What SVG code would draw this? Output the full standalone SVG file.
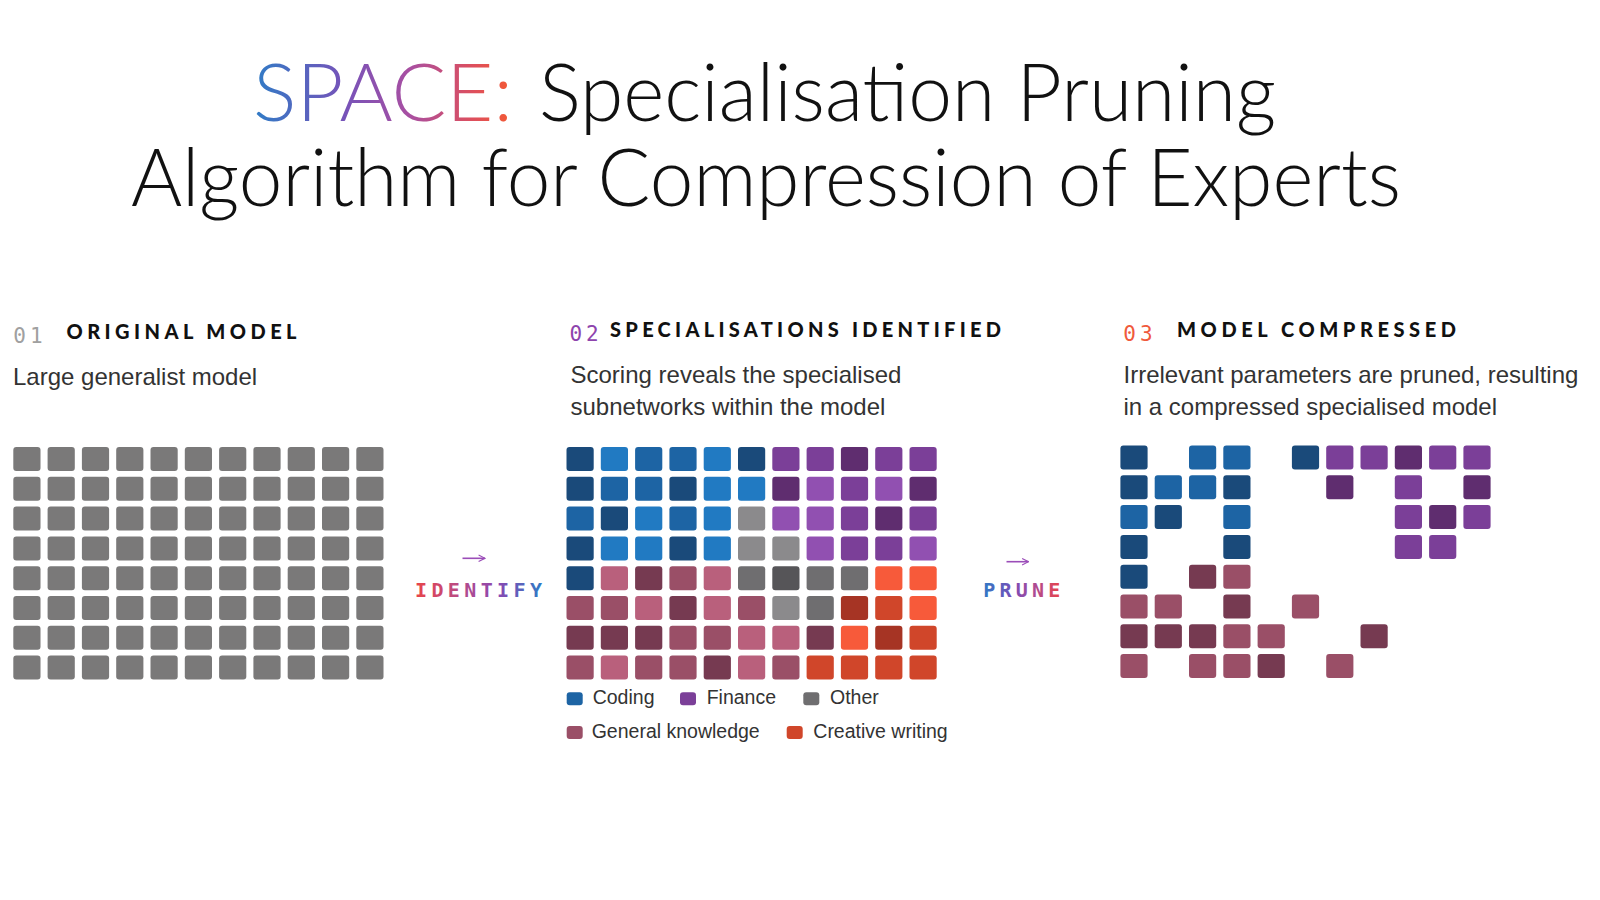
<svg xmlns="http://www.w3.org/2000/svg" width="1600" height="900" viewBox="0 0 1600 900">
<defs>
<linearGradient id="gSpace" gradientUnits="userSpaceOnUse" x1="253" y1="0" x2="513" y2="0">
<stop offset="0" stop-color="#2f7cc6"/><stop offset="0.35" stop-color="#7653b9"/><stop offset="0.6" stop-color="#a84fa2"/><stop offset="0.85" stop-color="#de4f5c"/><stop offset="1" stop-color="#f45a32"/>
</linearGradient>
<linearGradient id="gIdent" gradientUnits="userSpaceOnUse" x1="415" y1="0" x2="542" y2="0">
<stop offset="0" stop-color="#e8444a"/><stop offset="0.35" stop-color="#b94b87"/><stop offset="0.65" stop-color="#8a48b2"/><stop offset="1" stop-color="#2f7ac5"/>
</linearGradient>
<linearGradient id="gPrune" gradientUnits="userSpaceOnUse" x1="983" y1="0" x2="1060" y2="0">
<stop offset="0" stop-color="#2f7ac5"/><stop offset="0.4" stop-color="#7a4cb6"/><stop offset="0.65" stop-color="#a84c98"/><stop offset="1" stop-color="#e8444a"/>
</linearGradient>
<marker id="ah" viewBox="0 0 10 10" refX="9" refY="5" markerWidth="8" markerHeight="8" markerUnits="userSpaceOnUse" orient="auto">
<path d="M1 1 L9 5 L1 9" fill="none" stroke="#9b4db8" stroke-width="1.4"/>
</marker>
</defs>
<style>
.title{font-family:Lato,"Liberation Sans",sans-serif;font-weight:300;font-size:81px;fill:#111}
.num{font-family:"DejaVu Sans Mono","Liberation Mono",monospace;font-size:21px;letter-spacing:4px}
.head{font-family:Lato,"Liberation Sans",sans-serif;font-weight:900;font-size:20px;fill:#111}
.desc{font-family:"Liberation Sans",Arial,sans-serif;font-size:24px;fill:#333}
.leg{font-family:"Liberation Sans",Arial,sans-serif;font-size:19.5px;fill:#333}
.lbl{font-family:"DejaVu Sans Mono","Liberation Mono",monospace;font-weight:bold;font-size:20px}
.arr{fill:none;stroke:#9b4db8;stroke-width:1.6}
rect{rx:3px;ry:3px}
.cell rect{width:27.2px;height:24px}
.gy{fill:#7a7979}
.db{fill:#1a4a7a}.mb{fill:#1d64a4}.lb{fill:#217ac2}
.p{fill:#7b3f98}.dp{fill:#5f2d6f}.lp{fill:#9150b1}
.lg{fill:#8b8a8c}.g{fill:#6f6e70}.dg{fill:#565558}
.o{fill:#f75a3a}.r{fill:#d0462a}.dr{fill:#a63424}
.pk{fill:#b9607c}.m{fill:#9a4f67}.dm{fill:#763a51}
</style>
<rect x="0" y="0" width="1600" height="900" fill="#ffffff" rx="0" ry="0"/>

<g id="title">
<text class="title" x="253" y="121" fill="url(#gSpace)" style="fill:url(#gSpace)" textLength="260" lengthAdjust="spacingAndGlyphs">SPACE:</text>
<text class="title" x="539" y="121" textLength="737" lengthAdjust="spacingAndGlyphs">Specialisation Pruning</text>
<text class="title" x="131" y="206" textLength="1270" lengthAdjust="spacingAndGlyphs">Algorithm for Compression of Experts</text>
</g>

<g id="panel-original">
<text class="num" x="13.3" y="343" fill="#a0a0a0">01</text>
<text class="head" x="66.5" y="339" textLength="230" lengthAdjust="spacing">ORIGINAL MODEL</text>
<text class="desc" x="13" y="385">Large generalist model</text>
<g class="cell" transform="translate(13.3,447)">
<rect class="gy" x="0" y="0"/><rect class="gy" x="34.3" y="0"/><rect class="gy" x="68.6" y="0"/><rect class="gy" x="102.9" y="0"/><rect class="gy" x="137.2" y="0"/><rect class="gy" x="171.5" y="0"/><rect class="gy" x="205.8" y="0"/><rect class="gy" x="240.1" y="0"/><rect class="gy" x="274.4" y="0"/><rect class="gy" x="308.7" y="0"/><rect class="gy" x="343" y="0"/>
<rect class="gy" x="0" y="29.8"/><rect class="gy" x="34.3" y="29.8"/><rect class="gy" x="68.6" y="29.8"/><rect class="gy" x="102.9" y="29.8"/><rect class="gy" x="137.2" y="29.8"/><rect class="gy" x="171.5" y="29.8"/><rect class="gy" x="205.8" y="29.8"/><rect class="gy" x="240.1" y="29.8"/><rect class="gy" x="274.4" y="29.8"/><rect class="gy" x="308.7" y="29.8"/><rect class="gy" x="343" y="29.8"/>
<rect class="gy" x="0" y="59.6"/><rect class="gy" x="34.3" y="59.6"/><rect class="gy" x="68.6" y="59.6"/><rect class="gy" x="102.9" y="59.6"/><rect class="gy" x="137.2" y="59.6"/><rect class="gy" x="171.5" y="59.6"/><rect class="gy" x="205.8" y="59.6"/><rect class="gy" x="240.1" y="59.6"/><rect class="gy" x="274.4" y="59.6"/><rect class="gy" x="308.7" y="59.6"/><rect class="gy" x="343" y="59.6"/>
<rect class="gy" x="0" y="89.4"/><rect class="gy" x="34.3" y="89.4"/><rect class="gy" x="68.6" y="89.4"/><rect class="gy" x="102.9" y="89.4"/><rect class="gy" x="137.2" y="89.4"/><rect class="gy" x="171.5" y="89.4"/><rect class="gy" x="205.8" y="89.4"/><rect class="gy" x="240.1" y="89.4"/><rect class="gy" x="274.4" y="89.4"/><rect class="gy" x="308.7" y="89.4"/><rect class="gy" x="343" y="89.4"/>
<rect class="gy" x="0" y="119.2"/><rect class="gy" x="34.3" y="119.2"/><rect class="gy" x="68.6" y="119.2"/><rect class="gy" x="102.9" y="119.2"/><rect class="gy" x="137.2" y="119.2"/><rect class="gy" x="171.5" y="119.2"/><rect class="gy" x="205.8" y="119.2"/><rect class="gy" x="240.1" y="119.2"/><rect class="gy" x="274.4" y="119.2"/><rect class="gy" x="308.7" y="119.2"/><rect class="gy" x="343" y="119.2"/>
<rect class="gy" x="0" y="149"/><rect class="gy" x="34.3" y="149"/><rect class="gy" x="68.6" y="149"/><rect class="gy" x="102.9" y="149"/><rect class="gy" x="137.2" y="149"/><rect class="gy" x="171.5" y="149"/><rect class="gy" x="205.8" y="149"/><rect class="gy" x="240.1" y="149"/><rect class="gy" x="274.4" y="149"/><rect class="gy" x="308.7" y="149"/><rect class="gy" x="343" y="149"/>
<rect class="gy" x="0" y="178.8"/><rect class="gy" x="34.3" y="178.8"/><rect class="gy" x="68.6" y="178.8"/><rect class="gy" x="102.9" y="178.8"/><rect class="gy" x="137.2" y="178.8"/><rect class="gy" x="171.5" y="178.8"/><rect class="gy" x="205.8" y="178.8"/><rect class="gy" x="240.1" y="178.8"/><rect class="gy" x="274.4" y="178.8"/><rect class="gy" x="308.7" y="178.8"/><rect class="gy" x="343" y="178.8"/>
<rect class="gy" x="0" y="208.6"/><rect class="gy" x="34.3" y="208.6"/><rect class="gy" x="68.6" y="208.6"/><rect class="gy" x="102.9" y="208.6"/><rect class="gy" x="137.2" y="208.6"/><rect class="gy" x="171.5" y="208.6"/><rect class="gy" x="205.8" y="208.6"/><rect class="gy" x="240.1" y="208.6"/><rect class="gy" x="274.4" y="208.6"/><rect class="gy" x="308.7" y="208.6"/><rect class="gy" x="343" y="208.6"/>
</g>
</g>

<g id="panel-identified">
<text class="num" x="569.4" y="341" fill="#8e44ad">02</text>
<text class="head" x="610" y="337" textLength="391" lengthAdjust="spacing">SPECIALISATIONS IDENTIFIED</text>
<text class="desc" x="570.5" y="383">Scoring reveals the specialised</text>
<text class="desc" x="570.5" y="415">subnetworks within the model</text>
<g class="cell" transform="translate(566.5,447)">
<rect class="db" x="0" y="0"/><rect class="lb" x="34.3" y="0"/><rect class="mb" x="68.6" y="0"/><rect class="mb" x="102.9" y="0"/><rect class="lb" x="137.2" y="0"/><rect class="db" x="171.5" y="0"/><rect class="p" x="205.8" y="0"/><rect class="p" x="240.1" y="0"/><rect class="dp" x="274.4" y="0"/><rect class="p" x="308.7" y="0"/><rect class="p" x="343" y="0"/>
<rect class="db" x="0" y="29.8"/><rect class="mb" x="34.3" y="29.8"/><rect class="mb" x="68.6" y="29.8"/><rect class="db" x="102.9" y="29.8"/><rect class="lb" x="137.2" y="29.8"/><rect class="lb" x="171.5" y="29.8"/><rect class="dp" x="205.8" y="29.8"/><rect class="lp" x="240.1" y="29.8"/><rect class="p" x="274.4" y="29.8"/><rect class="lp" x="308.7" y="29.8"/><rect class="dp" x="343" y="29.8"/>
<rect class="mb" x="0" y="59.6"/><rect class="db" x="34.3" y="59.6"/><rect class="lb" x="68.6" y="59.6"/><rect class="mb" x="102.9" y="59.6"/><rect class="lb" x="137.2" y="59.6"/><rect class="lg" x="171.5" y="59.6"/><rect class="lp" x="205.8" y="59.6"/><rect class="lp" x="240.1" y="59.6"/><rect class="p" x="274.4" y="59.6"/><rect class="dp" x="308.7" y="59.6"/><rect class="p" x="343" y="59.6"/>
<rect class="db" x="0" y="89.4"/><rect class="lb" x="34.3" y="89.4"/><rect class="lb" x="68.6" y="89.4"/><rect class="db" x="102.9" y="89.4"/><rect class="lb" x="137.2" y="89.4"/><rect class="lg" x="171.5" y="89.4"/><rect class="lg" x="205.8" y="89.4"/><rect class="lp" x="240.1" y="89.4"/><rect class="p" x="274.4" y="89.4"/><rect class="p" x="308.7" y="89.4"/><rect class="lp" x="343" y="89.4"/>
<rect class="db" x="0" y="119.2"/><rect class="pk" x="34.3" y="119.2"/><rect class="dm" x="68.6" y="119.2"/><rect class="m" x="102.9" y="119.2"/><rect class="pk" x="137.2" y="119.2"/><rect class="g" x="171.5" y="119.2"/><rect class="dg" x="205.8" y="119.2"/><rect class="g" x="240.1" y="119.2"/><rect class="g" x="274.4" y="119.2"/><rect class="o" x="308.7" y="119.2"/><rect class="o" x="343" y="119.2"/>
<rect class="m" x="0" y="149"/><rect class="m" x="34.3" y="149"/><rect class="pk" x="68.6" y="149"/><rect class="dm" x="102.9" y="149"/><rect class="pk" x="137.2" y="149"/><rect class="m" x="171.5" y="149"/><rect class="lg" x="205.8" y="149"/><rect class="g" x="240.1" y="149"/><rect class="dr" x="274.4" y="149"/><rect class="r" x="308.7" y="149"/><rect class="o" x="343" y="149"/>
<rect class="dm" x="0" y="178.8"/><rect class="dm" x="34.3" y="178.8"/><rect class="dm" x="68.6" y="178.8"/><rect class="m" x="102.9" y="178.8"/><rect class="m" x="137.2" y="178.8"/><rect class="pk" x="171.5" y="178.8"/><rect class="pk" x="205.8" y="178.8"/><rect class="dm" x="240.1" y="178.8"/><rect class="o" x="274.4" y="178.8"/><rect class="dr" x="308.7" y="178.8"/><rect class="r" x="343" y="178.8"/>
<rect class="m" x="0" y="208.6"/><rect class="pk" x="34.3" y="208.6"/><rect class="m" x="68.6" y="208.6"/><rect class="m" x="102.9" y="208.6"/><rect class="dm" x="137.2" y="208.6"/><rect class="pk" x="171.5" y="208.6"/><rect class="m" x="205.8" y="208.6"/><rect class="r" x="240.1" y="208.6"/><rect class="r" x="274.4" y="208.6"/><rect class="r" x="308.7" y="208.6"/><rect class="r" x="343" y="208.6"/>
</g>
<g id="legend">
<rect class="mb" x="566.7" y="692.3" width="16" height="13" rx="1" ry="1"/><text class="leg" x="592.7" y="704.3">Coding</text>
<rect class="p" x="680" y="692.3" width="16" height="13" rx="1" ry="1"/><text class="leg" x="706.7" y="704.3">Finance</text>
<rect class="g" x="803.3" y="692.3" width="16" height="13" rx="1" ry="1"/><text class="leg" x="830" y="704.3">Other</text>
<rect class="m" x="566.7" y="726" width="16" height="13" rx="1" ry="1"/><text class="leg" x="591.7" y="737.7">General knowledge</text>
<rect class="r" x="786.7" y="726" width="16" height="13" rx="1" ry="1"/><text class="leg" x="813.3" y="737.7">Creative writing</text>
</g>
</g>

<g id="panel-compressed">
<text class="num" x="1123.3" y="341" fill="#f05a3c">03</text>
<text class="head" x="1177" y="337" textLength="279" lengthAdjust="spacing">MODEL COMPRESSED</text>
<text class="desc" x="1123.5" y="383">Irrelevant parameters are pruned, resulting</text>
<text class="desc" x="1123.5" y="415">in a compressed specialised model</text>
<g class="cell" transform="translate(1120.4,445.5)">
<rect class="db" x="0" y="0"/><rect class="mb" x="68.6" y="0"/><rect class="mb" x="102.9" y="0"/><rect class="db" x="171.5" y="0"/><rect class="p" x="205.8" y="0"/><rect class="p" x="240.1" y="0"/><rect class="dp" x="274.4" y="0"/><rect class="p" x="308.7" y="0"/><rect class="p" x="343" y="0"/>
<rect class="db" x="0" y="29.8"/><rect class="mb" x="34.3" y="29.8"/><rect class="mb" x="68.6" y="29.8"/><rect class="db" x="102.9" y="29.8"/><rect class="dp" x="205.8" y="29.8"/><rect class="p" x="274.4" y="29.8"/><rect class="dp" x="343" y="29.8"/>
<rect class="mb" x="0" y="59.6"/><rect class="db" x="34.3" y="59.6"/><rect class="mb" x="102.9" y="59.6"/><rect class="p" x="274.4" y="59.6"/><rect class="dp" x="308.7" y="59.6"/><rect class="p" x="343" y="59.6"/>
<rect class="db" x="0" y="89.4"/><rect class="db" x="102.9" y="89.4"/><rect class="p" x="274.4" y="89.4"/><rect class="p" x="308.7" y="89.4"/>
<rect class="db" x="0" y="119.2"/><rect class="dm" x="68.6" y="119.2"/><rect class="m" x="102.9" y="119.2"/>
<rect class="m" x="0" y="149"/><rect class="m" x="34.3" y="149"/><rect class="dm" x="102.9" y="149"/><rect class="m" x="171.5" y="149"/>
<rect class="dm" x="0" y="178.8"/><rect class="dm" x="34.3" y="178.8"/><rect class="dm" x="68.6" y="178.8"/><rect class="m" x="102.9" y="178.8"/><rect class="m" x="137.2" y="178.8"/><rect class="dm" x="240.1" y="178.8"/>
<rect class="m" x="0" y="208.6"/><rect class="m" x="68.6" y="208.6"/><rect class="m" x="102.9" y="208.6"/><rect class="dm" x="137.2" y="208.6"/><rect class="m" x="205.8" y="208.6"/>
</g>
</g>

<g id="connectors">
<g id="identify">
<path class="arr" d="M462.5 558.3 H485" marker-end="url(#ah)"/>
<text class="lbl" x="415" y="597.3" fill="url(#gIdent)" style="fill:url(#gIdent)" textLength="127" lengthAdjust="spacing">IDENTIFY</text>
</g>
<g id="prune">
<path class="arr" d="M1006.5 561.7 H1028.5" marker-end="url(#ah)"/>
<text class="lbl" x="983.3" y="597.3" fill="url(#gPrune)" style="fill:url(#gPrune)" textLength="77" lengthAdjust="spacing">PRUNE</text>
</g>
</g>
</svg>
